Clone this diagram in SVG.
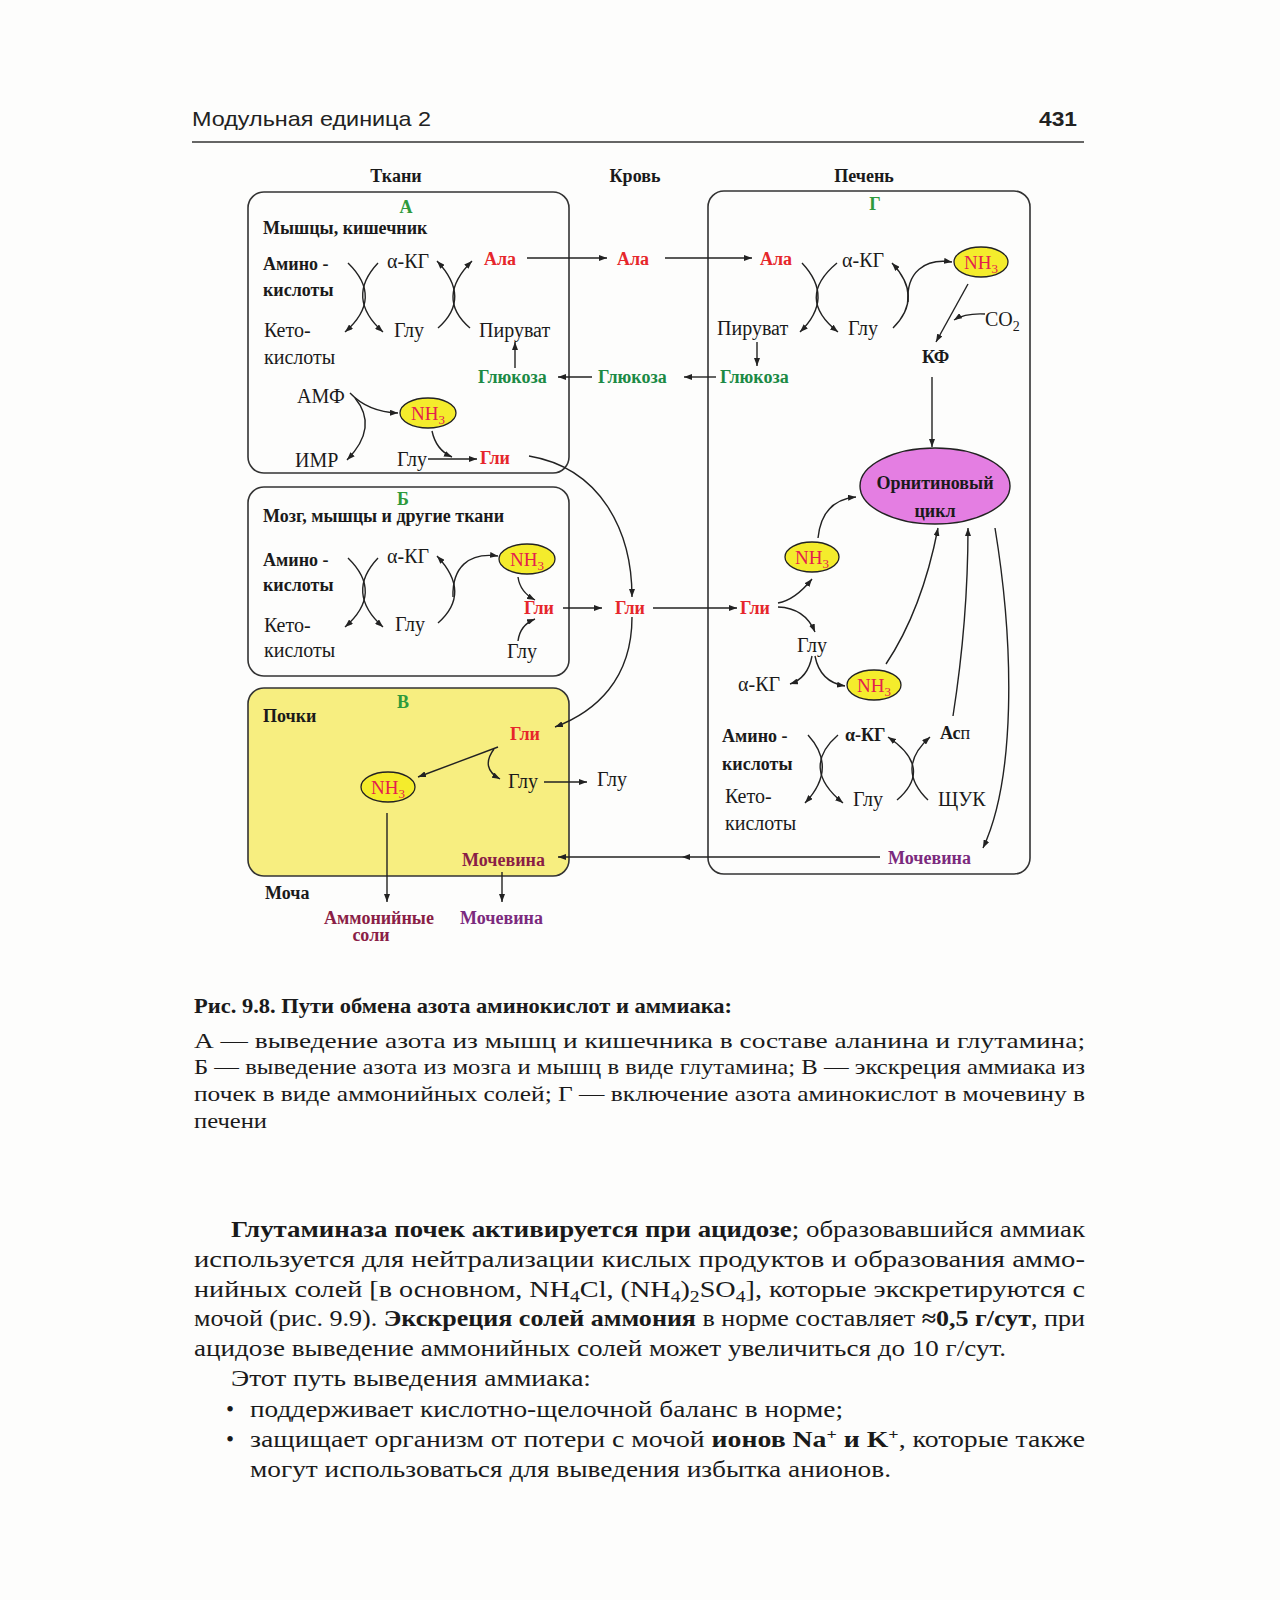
<svg xmlns="http://www.w3.org/2000/svg" width="1280" height="1600" viewBox="0 0 1280 1600">
<defs>
<marker id="ah" viewBox="0 0 8 6" refX="8" refY="3" markerWidth="8" markerHeight="6" markerUnits="userSpaceOnUse" orient="auto"><path d="M0,0 L8,3 L0,6 z" fill="#222"/></marker>
<style>
.box{fill:none;stroke:#333;stroke-width:1.6}
.b{font-family:"Liberation Serif",serif;font-weight:bold;font-size:18px;fill:#1a1a1a}
.r{font-family:"Liberation Serif",serif;font-size:20px;fill:#1a1a1a}
.red{fill:#e6262b}
.grn{fill:#1b8a45}
.lg{fill:#2e9a3c}
.pur{fill:#7b2a7e}
.mar{fill:#8a1e46}
.nh{fill:#f4ec2c;stroke:#222;stroke-width:1.3}
.nht{font-family:"Liberation Serif",serif;font-size:19px;fill:#e4204e;text-anchor:middle}
.c{fill:none;stroke:#222;stroke-width:1.4}
.a{marker-end:url(#ah)}
.pg{font-family:"Liberation Serif",serif;fill:#1a1a1a}
</style>
</defs>
<rect width="1280" height="1600" fill="#fdfdfc"/>

<g id="header">
<text x="192" y="126" font-family="'Liberation Sans Narrow','Liberation Sans',sans-serif" font-size="21" fill="#222" textLength="239" lengthAdjust="spacingAndGlyphs">Модульная единица 2</text>
<text x="1077" y="126" font-family="'Liberation Sans Narrow','Liberation Sans',sans-serif" font-size="21" font-weight="bold" fill="#222" text-anchor="end" textLength="38" lengthAdjust="spacingAndGlyphs">431</text>
<line x1="192" y1="142" x2="1084" y2="142" stroke="#333" stroke-width="1.5"/>
</g>

<g id="column-titles">
<text class="b" x="396" y="182" text-anchor="middle">Ткани</text>
<text class="b" x="635" y="182" text-anchor="middle">Кровь</text>
<text class="b" x="864" y="182" text-anchor="middle">Печень</text>
</g>

<g id="box-A">
<rect class="box" x="248" y="192" width="321" height="281" rx="16"/>
<text class="b lg" x="406" y="213" text-anchor="middle">А</text>
<text class="b" x="263" y="234">Мышцы, кишечник</text>
<text class="b" x="263" y="270">Амино -</text>
<text class="b" x="263" y="296">кислоты</text>
<text class="r" x="264" y="337">Кето-</text>
<text class="r" x="264" y="364">кислоты</text>
<text class="r" x="387" y="268">α-КГ</text>
<text class="r" x="394" y="337">Глу</text>
<text class="r" x="479" y="337">Пируват</text>
<text class="b red" x="484" y="265">Ала</text>
<text class="b grn" x="478" y="383">Глюкоза</text>
<text class="r" x="297" y="403">АМФ</text>
<text class="r" x="295" y="467">ИМР</text>
<text class="r" x="397" y="466">Глу</text>
<text class="b red" x="480" y="464">Гли</text>
</g>
<g id="nh3-A"><ellipse class="nh" cx="428" cy="413" rx="28" ry="15"/><text class="nht" x="428" y="420">NH<tspan font-size="13" dy="4">3</tspan></text></g>

<g id="box-B">
<rect class="box" x="248" y="487" width="321" height="189" rx="16"/>
<text class="b lg" x="403" y="505" text-anchor="middle">Б</text>
<text class="b" x="263" y="522">Мозг, мышцы и другие ткани</text>
<text class="b" x="263" y="566">Амино -</text>
<text class="b" x="263" y="591">кислоты</text>
<text class="r" x="264" y="632">Кето-</text>
<text class="r" x="264" y="657">кислоты</text>
<text class="r" x="387" y="563">α-КГ</text>
<text class="r" x="395" y="631">Глу</text>
<text class="b red" x="524" y="614">Гли</text>
<text class="r" x="507" y="658">Глу</text>
</g>
<g id="nh3-B"><ellipse class="nh" cx="527" cy="559" rx="28" ry="15"/><text class="nht" x="527" y="566">NH<tspan font-size="13" dy="4">3</tspan></text></g>

<g id="box-V">
<rect x="248" y="688" width="321" height="188" rx="16" fill="#f7ee80" stroke="#333" stroke-width="1.6"/>
<text class="b lg" x="403" y="708" text-anchor="middle">В</text>
<text class="b" x="263" y="722">Почки</text>
<text class="b red" x="510" y="740">Гли</text>
<text class="r" x="508" y="788">Глу</text>
<text class="b mar" x="462" y="866">Мочевина</text>
</g>
<g id="nh3-V"><ellipse class="nh" cx="388" cy="787" rx="27" ry="15"/><text class="nht" x="388" y="794">NH<tspan font-size="13" dy="4">3</tspan></text></g>

<g id="urine">
<text class="b" x="265" y="899">Моча</text>
<text class="b mar" x="379" y="924" text-anchor="middle">Аммонийные</text>
<text class="b mar" x="371" y="941" text-anchor="middle">соли</text>
<text class="b pur" x="460" y="924">Мочевина</text>
</g>

<g id="blood">
<text class="b red" x="617" y="265">Ала</text>
<text class="b grn" x="598" y="383">Глюкоза</text>
<text class="b red" x="615" y="614">Гли</text>
<text class="r" x="597" y="786">Глу</text>
</g>

<g id="box-G">
<rect class="box" x="708" y="191" width="322" height="683" rx="16" stroke="#344058"/>
<text class="b lg" x="875" y="210" text-anchor="middle">Г</text>
<text class="b red" x="760" y="265">Ала</text>
<text class="r" x="842" y="267">α-КГ</text>
<text class="r" x="717" y="335">Пируват</text>
<text class="r" x="848" y="335">Глу</text>
<text class="r" x="985" y="326">CO<tspan font-size="14" dy="5">2</tspan></text>
<text class="b" x="922" y="363">КФ</text>
<text class="b grn" x="720" y="383">Глюкоза</text>
<text class="b red" x="740" y="614">Гли</text>
<text class="r" x="797" y="652">Глу</text>
<text class="r" x="738" y="691">α-КГ</text>
<text class="b" x="722" y="742">Амино -</text>
<text class="b" x="722" y="770">кислоты</text>
<text class="r" x="725" y="803">Кето-</text>
<text class="r" x="725" y="830">кислоты</text>
<text class="b" x="845" y="741">α-КГ</text>
<text class="b" x="940" y="739">Ас<tspan font-weight="normal">п</tspan></text>
<text class="r" x="853" y="806">Глу</text>
<text class="r" x="938" y="806">ЩУК</text>
<text class="b pur" x="888" y="864">Мочевина</text>
</g>
<g id="nh3-G1"><ellipse class="nh" cx="981" cy="262" rx="27" ry="15"/><text class="nht" x="981" y="269">NH<tspan font-size="13" dy="4">3</tspan></text></g>
<g id="nh3-G2"><ellipse class="nh" cx="812" cy="557" rx="27" ry="15"/><text class="nht" x="812" y="564">NH<tspan font-size="13" dy="4">3</tspan></text></g>
<g id="nh3-G3"><ellipse class="nh" cx="874" cy="685" rx="27" ry="15"/><text class="nht" x="874" y="692">NH<tspan font-size="13" dy="4">3</tspan></text></g>
<g id="ornithine-cycle"><ellipse cx="935" cy="486" rx="75" ry="38" fill="#e47ee2" stroke="#222" stroke-width="1.4"/>
<text class="b" x="935" y="489" text-anchor="middle" fill="#3a1020">Орнитиновый</text>
<text class="b" x="935" y="517" text-anchor="middle" fill="#3a1020">цикл</text></g>

<g id="connectors">
<!-- A -->
<path class="c a" d="M348,263 Q384,298 345,332"/>
<path class="c a" d="M378,263 Q345,298 383,332"/>
<path class="c a" d="M438,328 Q472,298 437,261"/>
<path class="c a" d="M470,328 Q435,298 472,261"/>
<path class="c a" d="M515,368 L515,342"/>
<path class="c a" d="M350,393 Q368,412 398,413"/>
<path class="c a" d="M355,398 Q379,427 347,460"/>
<path class="c a" d="M432,431 Q436,450 452,457"/>
<path class="c a" d="M428,459 L477,459"/>
<path class="c a" d="M529,456 C600,468 632,530 632,597"/>
<path class="c a" d="M527,258 L607,258"/>
<path class="c a" d="M592,377 L558,377"/>
<!-- B -->
<path class="c a" d="M348,558 Q384,593 345,627"/>
<path class="c a" d="M378,558 Q345,593 383,627"/>
<path class="c a" d="M438,623 Q472,593 437,556"/>
<path class="c a" d="M453,597 C452,568 468,552 498,556"/>
<path class="c a" d="M518,577 Q520,592 535,600"/>
<path class="c a" d="M518,641 Q520,625 535,619"/>
<path class="c a" d="M563,608 L602,608"/>
<path class="c a" d="M653,608 L737,608"/>
<!-- V -->
<path class="c a" d="M632,617 C632,680 595,712 555,727"/>
<path class="c a" d="M498,747 L418,777"/>
<path class="c a" d="M494,749 Q480,768 500,779"/>
<path class="c a" d="M544,782 L587,782"/>
<path class="c a" d="M387,813 L387,902"/>
<path class="c a" d="M502,872 L502,902"/>
<path class="c a" d="M880,857 L682,857" stroke="#3a4a6a"/>
<path class="c a" d="M682,857 L558,857" stroke="#3a4a6a"/>
<!-- G -->
<path class="c a" d="M665,258 L752,258"/>
<path class="c a" d="M716,377 L684,377"/>
<path class="c a" d="M802,263 Q835,298 800,332"/>
<path class="c a" d="M837,263 Q795,298 838,332"/>
<path class="c a" d="M757,342 L757,366"/>
<path class="c a" d="M893,328 Q924,297 892,263"/>
<path class="c a" d="M908,302 C906,272 925,258 952,262"/>
<path class="c a" d="M968,284 L936,342"/>
<path class="c a" d="M985,314 Q965,313 954,320"/>
<path class="c a" d="M932,377 L932,447"/>
<path class="c a" d="M778,603 Q795,600 812,579"/>
<path class="c a" d="M778,607 Q805,608 815,632"/>
<path class="c a" d="M818,538 Q822,500 856,497"/>
<path class="c a" d="M812,656 Q808,678 790,684"/>
<path class="c a" d="M815,656 Q820,682 845,686"/>
<path class="c a" d="M886,664 Q922,610 938,528"/>
<path class="c a" d="M953,716 Q968,620 968,528"/>
<path class="c a" d="M995,528 C1015,650 1015,780 983,848"/>
<path class="c a" d="M808,735 Q838,768 805,803"/>
<path class="c a" d="M838,735 Q800,768 843,803"/>
<path class="c a" d="M897,800 Q934,768 888,737"/>
<path class="c a" d="M928,800 Q895,768 930,737"/>
</g>

<g id="caption" class="pg" font-size="21">
<text x="194" y="1013" font-weight="bold" textLength="538" lengthAdjust="spacingAndGlyphs">Рис. 9.8. Пути обмена азота аминокислот и аммиака:</text>
<text x="194" y="1048" textLength="891" lengthAdjust="spacingAndGlyphs">А — выведение азота из мышц и кишечника в составе аланина и глутамина;</text>
<text x="194" y="1074" textLength="891" lengthAdjust="spacingAndGlyphs">Б — выведение азота из мозга и мышц в виде глутамина; В — экскреция аммиака из</text>
<text x="194" y="1101" textLength="891" lengthAdjust="spacingAndGlyphs">почек в виде аммонийных солей; Г — включение азота аминокислот в мочевину в</text>
<text x="194" y="1128" textLength="73" lengthAdjust="spacingAndGlyphs">печени</text>
</g>

<g id="body-text" class="pg" font-size="23">
<text x="231" y="1237" textLength="854" lengthAdjust="spacingAndGlyphs"><tspan font-weight="bold">Глутаминаза почек активируется при ацидозе</tspan>; образовавшийся аммиак</text>
<text x="194" y="1267" textLength="891" lengthAdjust="spacingAndGlyphs">используется для нейтрализации кислых продуктов и образования аммо-</text>
<text x="194" y="1297" textLength="891" lengthAdjust="spacingAndGlyphs">нийных солей [в основном, NH<tspan font-size="16" dy="5">4</tspan><tspan dy="-5">Cl, (NH</tspan><tspan font-size="16" dy="5">4</tspan><tspan dy="-5">)</tspan><tspan font-size="16" dy="5">2</tspan><tspan dy="-5">SO</tspan><tspan font-size="16" dy="5">4</tspan><tspan dy="-5">], которые экскретируются с</tspan></text>
<text x="194" y="1326" textLength="891" lengthAdjust="spacingAndGlyphs">мочой (рис. 9.9). <tspan font-weight="bold">Экскреция солей аммония</tspan> в норме составляет <tspan font-weight="bold">≈0,5 г/сут</tspan>, при</text>
<text x="194" y="1356" textLength="812" lengthAdjust="spacingAndGlyphs">ацидозе выведение аммонийных солей может увеличиться до 10 г/сут.</text>
<text x="231" y="1386" textLength="360" lengthAdjust="spacingAndGlyphs">Этот путь выведения аммиака:</text>
<text x="226" y="1417">•</text>
<text x="250" y="1417" textLength="593" lengthAdjust="spacingAndGlyphs">поддерживает кислотно-щелочной баланс в норме;</text>
<text x="226" y="1447">•</text>
<text x="250" y="1447" textLength="835" lengthAdjust="spacingAndGlyphs">защищает организм от потери с мочой <tspan font-weight="bold">ионов Na</tspan><tspan font-weight="bold" font-size="15" dy="-8">+</tspan><tspan font-weight="bold" dy="8"> и K</tspan><tspan font-weight="bold" font-size="15" dy="-8">+</tspan><tspan dy="8">, которые также</tspan></text>
<text x="250" y="1477" textLength="641" lengthAdjust="spacingAndGlyphs">могут использоваться для выведения избытка анионов.</text>
</g>
</svg>
